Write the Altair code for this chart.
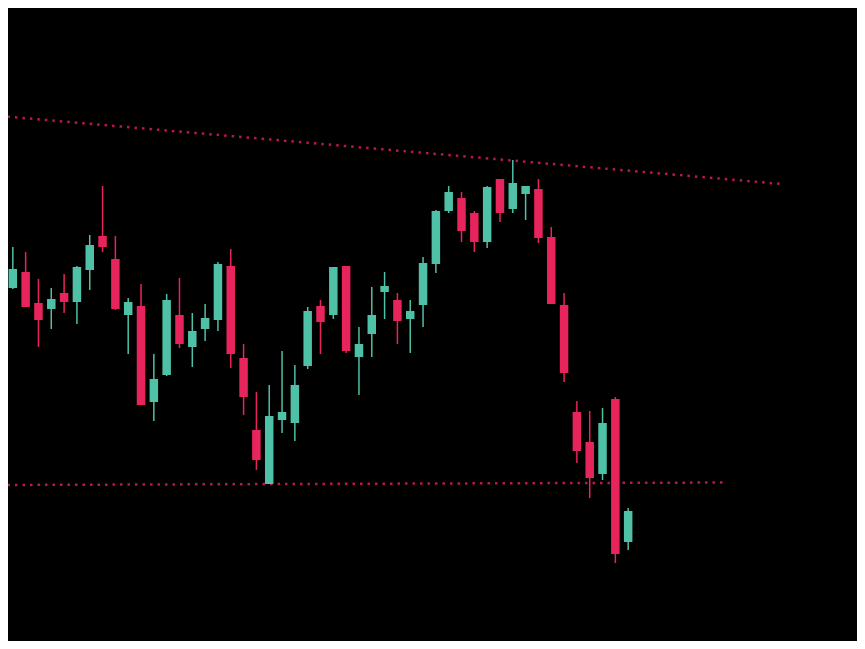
import altair as alt
import pandas as pd

# Candle index (one per session)
idx = list(range(50))

opens = [346, 362, 378, 347, 341, 357, 348, 380, 414, 391, 335, 344, 248, 275, 335, 303, 321, 330, 384, 292,
         220, 166, 230, 227, 284, 344, 335, 384, 293, 316, 358, 350, 331, 345, 386, 439, 452, 437, 408, 471,
         441, 456, 461, 413, 345, 238, 208, 176, 251, 108]
closes = [373, 381, 343, 330, 351, 348, 383, 405, 403, 341, 348, 245, 271, 350, 306, 319, 332, 386, 296, 253,
          190, 234, 238, 265, 339, 328, 383, 299, 306, 335, 364, 329, 339, 387, 439, 458, 419, 408, 463, 437,
          467, 464, 412, 346, 277, 199, 172, 227, 96, 139]
highs = [380, 403, 398, 371, 362, 376, 384, 415, 464, 414, 352, 366, 296, 356, 372, 337, 346, 388, 401, 306,
         258, 265, 299, 285, 343, 350, 383, 384, 323, 363, 378, 357, 350, 393, 440, 464, 458, 439, 464, 471,
         490, 464, 471, 423, 357, 249, 239, 242, 253, 142]
lows = [344, 361, 343, 303, 321, 337, 326, 360, 398, 340, 296, 245, 229, 274, 302, 283, 309, 319, 282, 235,
        180, 166, 217, 209, 281, 296, 331, 297, 255, 293, 331, 306, 297, 323, 377, 437, 408, 398, 402, 428,
        437, 430, 407, 346, 268, 187, 152, 170, 87, 100]

# Trendlines (resistance / support), endpoints in (index, price)
resist_x = [0, 61.0]
resist_y = [534, 466]
support_x = [0, 56.7]
support_y = [165, 167.5]

GREEN = "#4fc1a6"
RED = "#e8245c"
LINE = "#b8174f"

df = pd.DataFrame({"i": idx, "open": opens, "close": closes, "high": highs, "low": lows})
df["up"] = df["close"] >= df["open"]

xs = alt.Scale(domain=[0.624, 66.85], nice=False, zero=False, padding=0)
ys = alt.Scale(domain=[9, 642], nice=False, zero=False, padding=0)

color = alt.condition("datum.up", alt.value(GREEN), alt.value(RED))

base = alt.Chart(df).encode(
    x=alt.X("i:Q", scale=xs, axis=None),
)

wicks = base.mark_rule(strokeWidth=1.5, clip=True).encode(
    y=alt.Y("low:Q", scale=ys, axis=None),
    y2="high:Q",
    color=color,
)

bodies = base.mark_bar(size=8.5, clip=True).encode(
    y=alt.Y("open:Q", scale=ys, axis=None),
    y2="close:Q",
    color=color,
)

lines_df = pd.DataFrame({
    "x": resist_x + support_x,
    "y": resist_y + support_y,
    "name": ["resistance", "resistance", "support", "support"],
})

trend = alt.Chart(lines_df).mark_line(
    strokeDash=[2.5, 5], strokeWidth=2.5, color=LINE, clip=True
).encode(
    x=alt.X("x:Q", scale=xs, axis=None),
    y=alt.Y("y:Q", scale=ys, axis=None),
    detail="name:N",
)

chart = alt.layer(trend, wicks, bodies).properties(
    width=849, height=633, background="#000000", padding=0,
    autosize=alt.AutoSizeParams(type="none"),
).configure_view(stroke=None, fill="#000000")

chart.save("out.html", embed_options={"renderer": "svg", "actions": False})
